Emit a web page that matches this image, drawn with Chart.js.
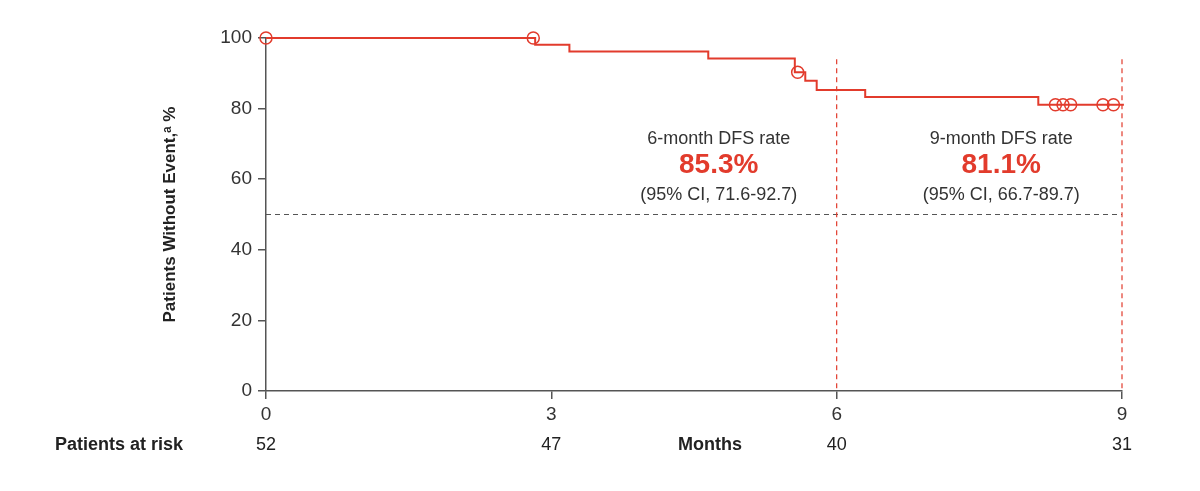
<!DOCTYPE html>
<html>
<head>
<meta charset="utf-8">
<script src="https://cdn.jsdelivr.net/npm/chart.js@4"></script>
<style>
  html, body { margin: 0; padding: 0; background: #fff; }
  #wrap { width: 1200px; height: 491px; }
</style>
</head>
<body>
<div id="wrap"><canvas id="kmChart" width="1200" height="491"></canvas></div>
<script>
// --- data ---
const stepMonths = [0, 2.83, 3.19, 4.65, 5.56, 5.67, 5.79, 6.30, 8.12, 9.02];
const stepValues = [100, 98.1, 96.2, 94.2, 90.3, 87.9, 85.3, 83.3, 81.1, 81.1];
const censorMonths = [0, 2.81, 5.59, 8.30, 8.38, 8.46, 8.80, 8.91];
const censorValues = [100, 100, 90.3, 81.1, 81.1, 81.1, 81.1, 81.1];
const riskMonths = [0, 3, 6, 9];
const riskCounts = [52, 47, 40, 31];
const markerMonths = [6, 9];
const rateBoxes = [
    { x: 4.76, title: '6-month DFS rate', rate: '85.3%', ci: '(95% CI, 71.6-92.7)' },
    { x: 7.73, title: '9-month DFS rate', rate: '81.1%', ci: '(95% CI, 66.7-89.7)' }
];
const medianLine = 50;

const RED = '#e23b2c';
const FONT = "'Liberation Sans', Arial, sans-serif";

// --- plugin: dashed reference lines, rate labels, risk table ---
const extras = {
    id: 'extras',
    beforeDatasetsDraw(chart) {
        const { ctx, scales: { x, y } } = chart;
        ctx.save();
        // 50% dashed line
        ctx.strokeStyle = '#555';
        ctx.lineWidth = 1;
        ctx.setLineDash([5, 4]);
        ctx.beginPath();
        ctx.moveTo(x.getPixelForValue(0), y.getPixelForValue(medianLine));
        ctx.lineTo(x.getPixelForValue(9), y.getPixelForValue(medianLine));
        ctx.stroke();
        // vertical red dashed lines
        ctx.strokeStyle = RED;
        ctx.lineWidth = 1.2;
        ctx.setLineDash([5, 4]);
        markerMonths.forEach(m => {
            const px = x.getPixelForValue(m);
            ctx.beginPath();
            ctx.moveTo(px, y.getPixelForValue(94));
            ctx.lineTo(px, y.getPixelForValue(0));
            ctx.stroke();
        });
        ctx.restore();
    },
    afterDraw(chart) {
        const { ctx, scales: { x, y } } = chart;
        ctx.save();
        ctx.textAlign = 'center';
        ctx.textBaseline = 'middle';
        rateBoxes.forEach(b => {
            const cx = x.getPixelForValue(b.x);
            ctx.fillStyle = '#333';
            ctx.font = '18px ' + FONT;
            ctx.fillText(b.title, cx, y.getPixelForValue(71.5));
            ctx.fillStyle = RED;
            ctx.font = 'bold 28px ' + FONT;
            ctx.fillText(b.rate, cx, y.getPixelForValue(64));
            ctx.fillStyle = '#333';
            ctx.font = '18px ' + FONT;
            ctx.fillText(b.ci, cx, y.getPixelForValue(55.5));
        });
        // patients at risk row
        const rowY = 445;
        ctx.fillStyle = '#222';
        ctx.font = 'bold 18px ' + FONT;
        ctx.textAlign = 'left';
        ctx.fillText('Patients at risk', 55, rowY);
        ctx.textAlign = 'center';
        ctx.fillText('Months', 710, rowY);
        ctx.font = '18px ' + FONT;
        riskMonths.forEach((m, i) => {
            ctx.fillText(String(riskCounts[i]), x.getPixelForValue(m), rowY);
        });
        ctx.restore();
    }
};

const kmCtx = document.getElementById('kmChart').getContext('2d');
const kmChart = new Chart(kmCtx, {
    type: 'line',
    data: {
        datasets: [{
            label: 'DFS',
            data: stepMonths.map((m, i) => ({ x: m, y: stepValues[i] })),
            borderColor: RED,
            borderWidth: 2,
            stepped: 'before',
            pointRadius: 0,
            fill: false,
            clip: false
        }, {
            label: 'Censored',
            data: censorMonths.map((m, i) => ({ x: m, y: censorValues[i] })),
            showLine: false,
            clip: false,
            pointStyle: 'circle',
            pointRadius: 6,
            pointBorderWidth: 1.5,
            pointBorderColor: RED,
            pointBackgroundColor: 'rgba(0,0,0,0)'
        }]
    },
    options: {
        responsive: false,
        animation: false,
        layout: { padding: { left: 160, right: 78, top: 38, bottom: 30 } },
        plugins: {
            legend: { display: false },
            tooltip: { enabled: false }
        },
        scales: {
            x: {
                type: 'linear',
                min: 0,
                max: 9,
                afterFit(s) { s.height = 70; },
                border: { color: '#555', width: 1.5 },
                grid: { drawOnChartArea: false, tickLength: 8, color: '#555', lineWidth: 1.5 },
                ticks: { stepSize: 3, color: '#333', font: { family: FONT, size: 19 }, padding: 4 },
                title: { display: false }
            },
            y: {
                min: 0,
                max: 100,
                afterFit(s) { s.width = 106; },
                border: { color: '#555', width: 1.5 },
                grid: { drawOnChartArea: false, tickLength: 8, color: '#555', lineWidth: 1.5 },
                ticks: { stepSize: 20, color: '#333', font: { family: FONT, size: 19 }, padding: 6 },
                title: {
                    display: true,
                    text: 'Patients Without Event,\u1D43 %',
                    color: '#222',
                    font: { family: FONT, size: 17, weight: 'bold' },
                    padding: { top: 0, bottom: 0 }
                }
            }
        }
    },
    plugins: [extras]
});
</script>
</body>
</html>
